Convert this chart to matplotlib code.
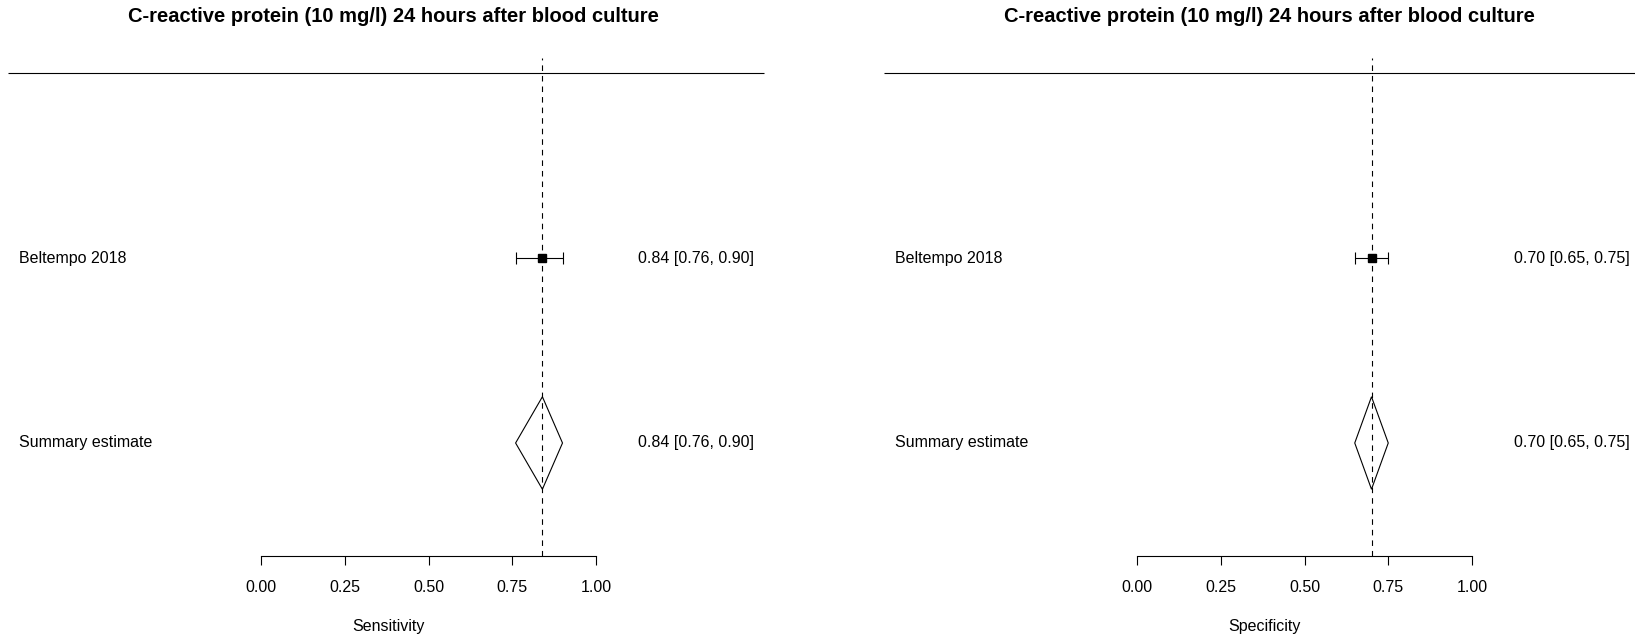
import matplotlib.pyplot as plt

plt.rcParams['font.family'] = ['Liberation Sans', 'DejaVu Sans']

# Data
title = 'C-reactive protein (10 mg/l) 24 hours after blood culture'
studies = ['Beltempo 2018']
sens = [0.84]
sens_lo = [0.76]
sens_hi = [0.90]
spec = [0.70]
spec_lo = [0.65]
spec_hi = [0.75]
summary_sens = (0.84, 0.76, 0.90)
summary_spec = (0.70, 0.65, 0.75)
ticks = [0.0, 0.25, 0.50, 0.75, 1.0]
tick_labels = ['0.00', '0.25', '0.50', '0.75', '1.00']

W, H = 1635, 638
fig = plt.figure(figsize=(W / 100, H / 100), dpi=100)

# pixel layout of each panel: axes left/right, pixel of x=0 and x=1
panels = [
    dict(x0=0, x1=818, p0=261, p1=596, lab='Sensitivity',
         est=sens, lo=sens_lo, hi=sens_hi, summ=summary_sens),
    dict(x0=818, x1=1635, p0=1137, p1=1472, lab='Specificity',
         est=spec, lo=spec_lo, hi=spec_hi, summ=summary_spec),
]

# rows: summary at 0, studies above
row_px = 185.0
summary_px = 443.0
fs = 11.5

for p in panels:
    ax = fig.add_axes([p['x0'] / W, 0, (p['x1'] - p['x0']) / W, 1])
    scale = p['p1'] - p['p0']
    to_x = lambda px: (px - p['p0']) / scale  # px offset -> data x
    ax.set_xlim(to_x(p['x0']), to_x(p['x1']))
    ax.set_ylim((summary_px - H) / row_px, summary_px / row_px)

    n = len(studies)
    top_y = n + 1
    axis_y = (summary_px - 556) / row_px
    name_x = to_x(p['p0'] - 242)
    txt_x = to_x(p['p1'] + 158)

    # header line
    ax.hlines(top_y, to_x(p['p0'] - 253), to_x(p['p0'] + 503), color='black', lw=0.8)

    # reference line at summary estimate
    ax.vlines(p['summ'][0], axis_y, top_y + 0.08, color='black', lw=0.8,
              linestyles=(0, (5, 4.5)))

    # studies
    for i, name in enumerate(studies):
        y = n - i
        e, l, h = p['est'][i], p['lo'][i], p['hi'][i]
        ax.errorbar([e], [y], xerr=[[e - l], [h - e]], fmt='s', color='black',
                    ms=5.5, capsize=4.2, elinewidth=0.8, capthick=0.8)
        ax.text(name_x, y, name, ha='left', va='center', fontsize=fs)
        ax.text(txt_x, y, f'{e:.2f} [{l:.2f}, {h:.2f}]',
                ha='right', va='center', fontsize=fs)

    # summary diamond
    e, l, h = p['summ']
    dh = 0.25
    ax.fill([l, e, h, e], [0, dh, 0, -dh], facecolor='white', edgecolor='black', lw=0.8)
    ax.text(name_x, 0, 'Summary estimate', ha='left', va='center', fontsize=fs)
    ax.text(txt_x, 0, f'{e:.2f} [{l:.2f}, {h:.2f}]',
            ha='right', va='center', fontsize=fs)

    # x axis
    for s in ['top', 'right', 'left']:
        ax.spines[s].set_visible(False)
    ax.spines['bottom'].set_position(('data', axis_y))
    ax.spines['bottom'].set_bounds(0, 1)
    ax.spines['bottom'].set_linewidth(0.8)
    ax.set_xticks(ticks)
    ax.set_xticklabels(tick_labels, fontsize=fs)
    ax.tick_params(axis='x', length=6.5, width=0.8, pad=11)
    ax.set_yticks([])
    ax.patch.set_alpha(0)

    ax.text(to_x(p['p0'] + 127), (summary_px - 627) / row_px, p['lab'],
            ha='center', va='center', fontsize=fs)

    # title
    fig.text((p['p0'] + 132) / W, 1 - 17 / H, title,
             ha='center', va='center', fontsize=14.5, fontweight='bold')

fig.savefig('out.png', dpi=100)
